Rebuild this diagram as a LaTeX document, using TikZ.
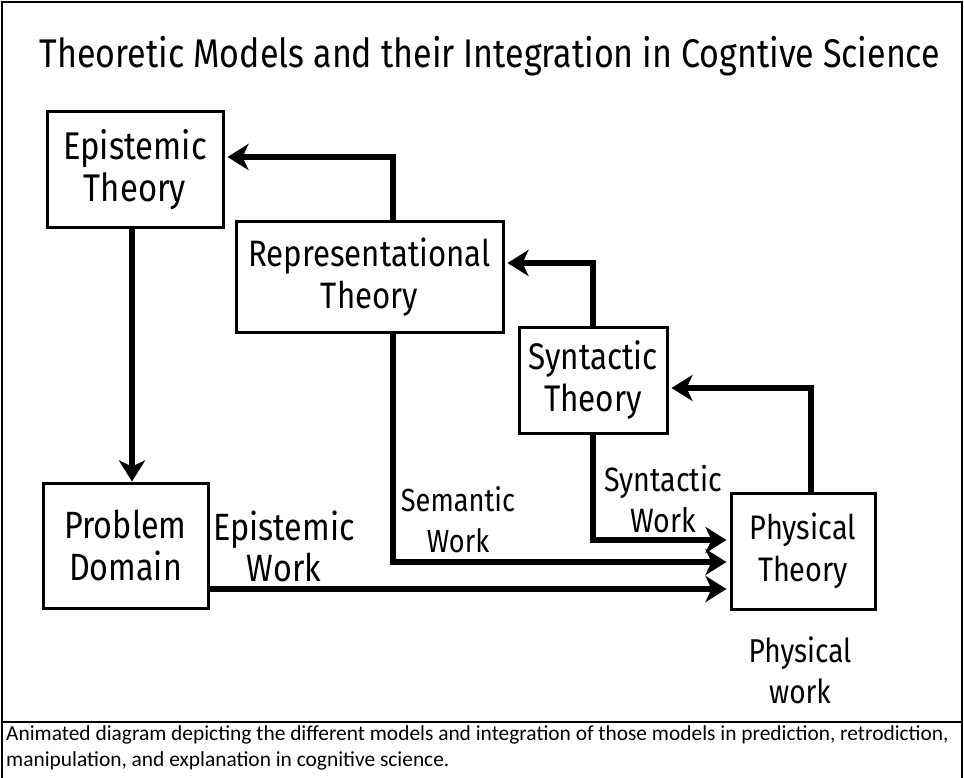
\documentclass[tikz,border=0pt]{standalone}
\usepackage{fontspec}
\setmainfont[FakeStretch=0.85]{Fira Sans}
\newfontfamily\capfont{Carlito}
\usetikzlibrary{arrows.meta}

\tikzset{
  theory/.style={draw, line width=3pt, align=center, inner sep=0pt},
  flow/.style={line width=6pt, -{Stealth[length=21pt, width=26pt, inset=6pt]}, shorten >=3pt},
  worklabel/.style={align=center, inner sep=0pt},
  captext/.style={anchor=base west, inner sep=0pt, font=\capfont\fontsize{21.4}{24}\selectfont},
}

\begin{document}
\begin{tikzpicture}[x=1pt, y=-1pt]
  \useasboundingbox (0,0) rectangle (964,778);
  \fill[white] (0,0) rectangle (964,778);

  % outer frame and caption separator
  \begin{scope}
    \clip (0,0) rectangle (964,778);
    \draw[line width=2pt] (2,2) rectangle (962,800);
    \draw[line width=2pt] (2,722) -- (962,722);
  \end{scope}

  % title
  \node[font=\fontsize{40}{42}\selectfont] (title) at (490,56)
    {Theoretic Models and their Integration in Cogntive Science};

  % theory boxes
  \node[theory, minimum width=176pt, minimum height=116pt, font=\fontsize{38.6}{42}\selectfont] (epi) at (135,170)
    {Epistemic\\Theory};
  \node[theory, minimum width=267pt, minimum height=110pt, font=\fontsize{36.7}{42}\selectfont] (rep) at (369.5,277)
    {Representational\\Theory};
  \node[theory, minimum width=148pt, minimum height=106pt, font=\fontsize{37}{42}\selectfont] (syn) at (593,380)
    {Syntactic\\Theory};
  \node[theory, minimum width=165pt, minimum height=125pt, font=\fontsize{38}{42}\selectfont] (prob) at (125.5,545.5)
    {Problem\\Domain};
  \node[theory, minimum width=144pt, minimum height=116pt, font=\fontsize{34}{42}\selectfont] (phys) at (803,551)
    {Physical\\Theory};

  % upward connectors
  \draw[flow] ([xshift=23.5pt]rep.north) |- ([yshift=13pt]epi.east);
  \draw[flow] (syn.north) |- ([yshift=14pt]rep.east);
  \draw[flow] ([xshift=8pt]phys.north) |- ([yshift=-8pt]syn.east);

  % downward connector
  \draw[flow, shorten >=0pt] ([xshift=-3pt]epi.south) -- ([xshift=-3pt]epi.south |- prob.north);

  % work connectors into the physical theory
  \draw[flow] ([xshift=23.5pt]rep.south) |- ([yshift=-11pt]phys.west);
  \draw[flow] (syn.south) |- ([yshift=11pt]phys.west);
  \draw[flow] ([yshift=-43.5pt]prob.east) -- ([yshift=-43.5pt]prob.east -| phys.west);

  % work labels
  \node[worklabel, font=\fontsize{32}{41}\selectfont] (semw) at (458,520) {Semantic\\Work};
  \node[worklabel, font=\fontsize{33.7}{41}\selectfont] (synw) at (663,499) {Syntactic\\Work};
  \node[worklabel, font=\fontsize{38}{41}\selectfont] (epiw) at (284,546) {Epistemic\\Work};
  \node[worklabel, font=\fontsize{33}{41}\selectfont] (physw) at (800,670) {Physical\\work};

  % caption
  \node[captext] (cap1) at (6,740)
    {Animated diagram depicting the different models and integration of those models in prediction, retrodiction,};
  \node[captext] (cap2) at (6,766)
    {manipulation, and explanation in cognitive science.};
\end{tikzpicture}
\end{document}
